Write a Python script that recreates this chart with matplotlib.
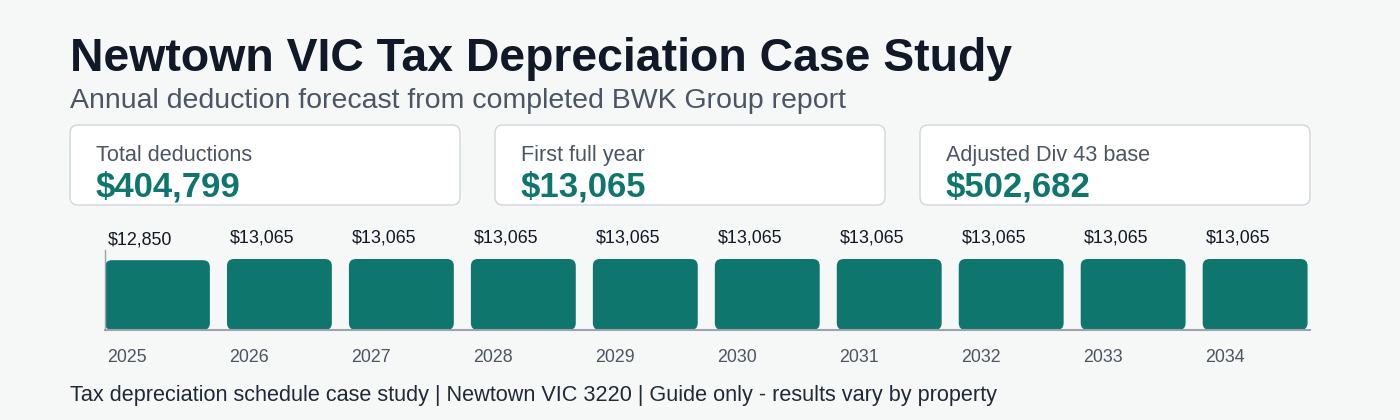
import matplotlib.pyplot as plt
from matplotlib.patches import FancyBboxPatch

plt.rcParams['font.family'] = ['Liberation Sans', 'DejaVu Sans']

years = ['2025', '2026', '2027', '2028', '2029', '2030', '2031', '2032', '2033', '2034']
deductions = [12850, 13065, 13065, 13065, 13065, 13065, 13065, 13065, 13065, 13065]

card_labels = ['Total deductions', 'First full year', 'Adjusted Div 43 base']
card_values = ['$404,799', '$13,065', '$502,682']

BG = '#f6f7f7'
TEAL = '#0f766e'
DARK = '#111827'
GREY = '#4b5563'

W, H = 1400, 420
fig = plt.figure(figsize=(14, 4.2), dpi=100, facecolor=BG)

# header
fig.text(70 / W, 1 - 71 / H, 'Newtown VIC Tax Depreciation Case Study',
         fontsize=33.4, fontweight='bold', color=DARK, va='baseline')
fig.text(70 / W, 1 - 108 / H, 'Annual deduction forecast from completed BWK Group report',
         fontsize=20.5, color=GREY, va='baseline')

# summary cards
card_x = [70, 495, 920]
for cx, lab, val in zip(card_x, card_labels, card_values):
    box = FancyBboxPatch((cx / W, 1 - 205 / H), 390 / W, 80 / H,
                         boxstyle='round,pad=0,rounding_size=%f' % (8 / W),
                         mutation_aspect=W / H,
                         transform=fig.transFigure, facecolor='white',
                         edgecolor='#d1d5db', linewidth=1)
    fig.add_artist(box)
    fig.text((cx + 26) / W, 1 - 161 / H, lab, fontsize=15.6, color=GREY, va='baseline')
    fig.text((cx + 26) / W, 1 - 197 / H, val, fontsize=25, fontweight='bold',
             color=TEAL, va='baseline')

# bar chart
ax = fig.add_axes([105 / W, 1 - 330 / H, 1205 / W, 80 / H])
ax.set_facecolor(BG)
ymax = 14720
bw = 0.86
ax.set_xlim(-bw / 2, 9.45)
ax.set_ylim(0, ymax)

# x units per px and y units per px, so the corners stay round
xpp = (9.45 + bw / 2) / 1205
ypp = ymax / 80
for i, v in enumerate(deductions):
    p = FancyBboxPatch((i - bw / 2, 0), bw, v,
                       boxstyle='round,pad=0,rounding_size=%f' % (7 * xpp),
                       mutation_aspect=ypp / xpp,
                       facecolor=TEAL, edgecolor='none')
    ax.add_patch(p)
    ax.annotate('$%s' % format(v, ','), xy=(i - bw / 2, v), xytext=(3, 16),
                textcoords='offset pixels', fontsize=12.9, color=DARK,
                ha='left', va='baseline')
    ax.annotate(years[i], xy=(i - bw / 2, 0), xytext=(2, -32),
                textcoords='offset pixels', fontsize=12.8, color=GREY,
                ha='left', va='baseline')

for s in ['top', 'right']:
    ax.spines[s].set_visible(False)
ax.spines['left'].set_color('#9ca3af')
ax.spines['bottom'].set_color('#9ca3af')
ax.spines['left'].set_linewidth(1)
ax.spines['bottom'].set_linewidth(1.5)
ax.set_xticks([])
ax.set_yticks([])

fig.text(70 / W, 1 - 401 / H,
         'Tax depreciation schedule case study | Newtown VIC 3220 | Guide only - results vary by property',
         fontsize=15.6, color='#1f2937', va='baseline')

fig.savefig('out.png', dpi=100, facecolor=BG)
